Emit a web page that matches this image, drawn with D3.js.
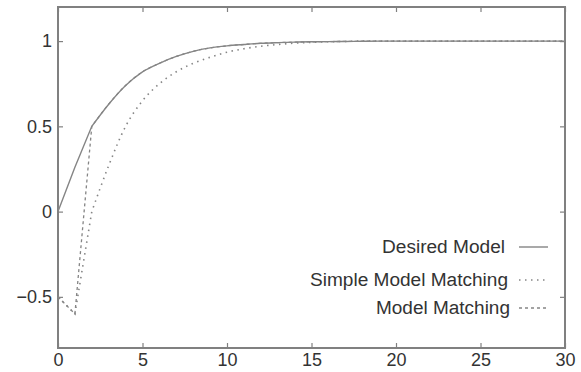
<!DOCTYPE html>
<html><head><meta charset="utf-8">
<script src="https://cdn.jsdelivr.net/npm/d3@7"></script>
<style>body{margin:0;background:#fff;}svg{display:block;}</style>
</head><body>
<script>
const timeSteps = d3.range(0, 31);
const desiredModel = [0, 0.26, 0.5, 0.63, 0.74, 0.82, 0.87, 0.91, 0.94, 0.96, 0.972, 0.98, 0.987, 0.991, 0.994, 0.996, 0.997, 0.998, 0.999, 1, 1, 1, 1, 1, 1, 1, 1, 1, 1, 1, 1];
const simpleModelMatching = [-0.5, -0.6, 0.0, 0.27, 0.5, 0.65, 0.75, 0.82, 0.87, 0.905, 0.935, 0.955, 0.97, 0.98, 0.988, 0.993, 0.996, 0.998, 1, 1, 1, 1, 1, 1, 1, 1, 1, 1, 1, 1, 1];
const modelMatching = [-0.5, -0.6, 0.5, 0.63, 0.74, 0.82, 0.87, 0.91, 0.94, 0.96, 0.972, 0.98, 0.987, 0.991, 0.994, 0.996, 0.997, 0.998, 0.999, 1, 1, 1, 1, 1, 1, 1, 1, 1, 1, 1, 1];
const xTicks = [0, 5, 10, 15, 20, 25, 30];
const yTicks = [-0.5, 0, 0.5, 1];
const seriesNames = ["Desired Model", "Simple Model Matching", "Model Matching"];

const W = 581, H = 372;
const m = {left: 58, right: 16, top: 7, bottom: 24};
const svg = d3.select("body").append("svg").attr("width", W).attr("height", H);
const x = d3.scaleLinear().domain([0, 30]).range([m.left, W - m.right]);
const y = d3.scaleLinear().domain([-0.8, 1.2]).range([H - m.bottom, m.top]);

const frameColor = "#808080", textColor = "#333", lineColor = "#858585";
const font = "Liberation Sans, Arial, sans-serif";

const xAxis = svg.append("g").attr("transform", `translate(0,${y(-0.8)})`)
  .call(d3.axisBottom(x).tickValues(xTicks).tickFormat(d3.format("d")).tickSizeInner(-5).tickSizeOuter(0).tickPadding(3));
const yAxis = svg.append("g").attr("transform", `translate(${x(0)},0)`)
  .call(d3.axisLeft(y).tickValues(yTicks).tickFormat(d => d === -0.5 ? "\u22120.5" : String(d)).tickSizeInner(-5).tickSizeOuter(0).tickPadding(6));
const xTop = svg.append("g").attr("transform", `translate(0,${y(1.2)})`)
  .call(d3.axisTop(x).tickValues(xTicks).tickFormat("").tickSizeInner(-5).tickSizeOuter(0));
const yRight = svg.append("g").attr("transform", `translate(${x(30)},0)`)
  .call(d3.axisRight(y).tickValues(yTicks).tickFormat("").tickSizeInner(-5).tickSizeOuter(0));
[xAxis, yAxis, xTop, yRight].forEach(g => {
  g.select(".domain").remove();
  g.selectAll("line").attr("stroke", frameColor).attr("stroke-width", 1.2);
  g.selectAll("text").attr("fill", textColor).style("font-family", font).style("font-size", "18px");
});
xAxis.selectAll("text").attr("dy", "0.85em");

svg.append("rect").attr("x", x(0)).attr("y", y(1.2))
  .attr("width", x(30) - x(0)).attr("height", y(-0.8) - y(1.2))
  .attr("fill", "none").attr("stroke", frameColor).attr("stroke-width", 2);

const styles = [
  {data: desiredModel, dash: null, w: 1.4},
  {data: simpleModelMatching, dash: "1.5,4.5", w: 1.6},
  {data: modelMatching, dash: "3,3", w: 1.3}
];
const linearPart = d3.line().x(d => x(d.t)).y(d => y(d.v));
const smoothPart = d3.line().curve(d3.curveMonotoneX).x(d => x(d.t)).y(d => y(d.v));
styles.forEach(s => {
  const pts = s.data.map((v, i) => ({t: timeSteps[i], v}));
  const d = linearPart(pts.slice(0, 3)) + smoothPart(pts.slice(2)).replace(/^M/, "L");
  svg.append("path").attr("d", d)
    .attr("fill", "none").attr("stroke", lineColor).attr("stroke-width", s.w)
    .attr("stroke-dasharray", s.dash);
});

const legY = [247, 280, 308];
const legW = [123, 198, 134];
const legEnd = [505, 508, 510];
seriesNames.forEach((name, i) => {
  svg.append("text").attr("x", legEnd[i]).attr("y", legY[i]).attr("dy", "0.35em")
    .attr("text-anchor", "end").attr("fill", textColor)
    .attr("textLength", legW[i]).attr("lengthAdjust", "spacingAndGlyphs")
    .style("font-family", font).style("font-size", "18px").text(name);
  svg.append("line").attr("x1", 519).attr("x2", 548).attr("y1", legY[i]).attr("y2", legY[i])
    .attr("stroke", lineColor).attr("stroke-width", styles[i].w).attr("stroke-dasharray", styles[i].dash);
});
</script>
</body></html>
